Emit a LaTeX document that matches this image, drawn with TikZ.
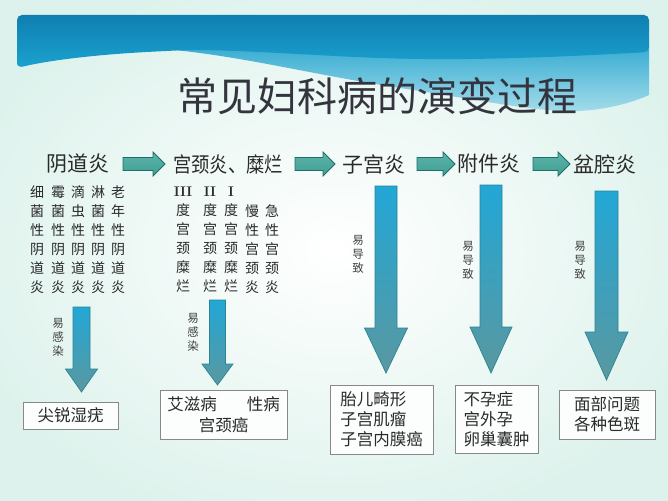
\documentclass[tikz,border=0pt]{standalone}
\usepackage{fontspec}
\newfontfamily\cjk{Noto Sans CJK SC}
\usetikzlibrary{calc}
\definecolor{bgmint}{HTML}{DDF2EC}
\definecolor{darktop}{HTML}{0F7FB2}
\definecolor{darkbot}{HTML}{1BA2CE}
\definecolor{wavetop}{HTML}{35ABD2}
\definecolor{wavebot}{HTML}{A6DDEA}
\definecolor{hfill}{HTML}{3F9E93}
\definecolor{hfilltop}{HTML}{5DB5AA}
\definecolor{hdraw}{HTML}{1F6E68}
\definecolor{vtop}{HTML}{22A7D6}
\definecolor{vbot}{HTML}{5A98A0}
\definecolor{vdraw}{HTML}{2A8494}
\definecolor{txt}{HTML}{2A2A2A}
\definecolor{titlecol}{HTML}{34343E}
\definecolor{boxdraw}{HTML}{888888}
\newcommand\myHArrow[3]{% x-from, x-to, y
  \shade[top color=hfilltop, bottom color=hfill, draw=hdraw, line width=0.8pt]
    (#1,#3-6.5) -- (#2-12,#3-6.5) -- (#2-12,#3-12) -- (#2,#3) -- (#2-12,#3+12)
    -- (#2-12,#3+6.5) -- (#1,#3+6.5) -- cycle;}
\newcommand\myVArrow[6]{% x, ytop, ytip, body half, head half, head length
  \shade[top color=vtop, bottom color=vbot, draw=vdraw, line width=0.7pt]
    (#1-#4,#2) -- (#1+#4,#2) -- (#1+#4,#3-#6) -- (#1+#5,#3-#6) -- (#1,#3)
    -- (#1-#5,#3-#6) -- (#1-#4,#3-#6) -- cycle;}
\begin{document}
\begin{tikzpicture}[x=1pt,y=-1pt,
  head/.style={font=\cjk\fontsize{21}{24}\selectfont, text=txt, inner sep=0pt},
  colm/.style={font=\cjk\fontsize{14}{19}\selectfont, text=txt, inner sep=0pt, align=center},
  vlabel/.style={font=\cjk\fontsize{11.5}{14}\selectfont, text=txt!90, inner sep=0pt, align=center},
  box/.style={draw=boxdraw, fill=white!90!bgmint, line width=0.8pt, inner sep=0pt,
    font=\cjk\fontsize{16.5}{20}\selectfont, text=txt, align=left}]
\useasboundingbox (0,0) rectangle (668,500);
% background
\shade[inner color=white, outer color=bgmint] (-60,-40) rectangle (728,540);
% light wave
\shade[top color=wavetop, bottom color=wavebot]
  (175,50) .. controls (250,58) and (310,74) .. (400,88)
  .. controls (480,100) and (540,113) .. (580,111)
  .. controls (612,109) and (636,101) .. (649,95) -- (649,45) -- cycle;
% dark band
\shade[top color=darktop, bottom color=darkbot, rounded corners=5pt]
  (17,68) -- (17,15) -- (649,15) -- (649,52)
  .. controls (560,57) and (470,61) .. (380,58)
  .. controls (300,55) and (220,48) .. (167,51)
  .. controls (100,54) and (50,60) .. (17,68) -- cycle;
% title
\node[font=\cjk\fontsize{40}{42}\selectfont, text=titlecol] (title) at (377,96) {常见妇科病的演变过程};
% headings
\node[head] (t1) at (78,164) {阴道炎};
\node[head, xscale=.87] (t2) at (228,164) {宫颈炎、糜烂};
\node[head] (t3) at (374,164) {子宫炎};
\node[head] (t4) at (489,164) {附件炎};
\node[head] (t5) at (605,164) {盆腔炎};
% horizontal block arrows between headings
\myHArrow{123}{165}{164}
\myHArrow{295}{335}{164}
\myHArrow{417}{455}{164}
\myHArrow{533}{570}{164}
% columns under 阴道炎
\node[colm] (c11) at (37,239.5) {细\\菌\\性\\阴\\道\\炎};
\node[colm] (c12) at (58,239.5) {霉\\菌\\性\\阴\\道\\炎};
\node[colm] (c13) at (78,239.5) {滴\\虫\\性\\阴\\道\\炎};
\node[colm] (c14) at (98,239.5) {淋\\菌\\性\\阴\\道\\炎};
\node[colm] (c15) at (118,239.5) {老\\年\\性\\阴\\道\\炎};
% columns under 宫颈炎、糜烂
\node[colm] (c21) at (183,239.5) {{\rmfamily\bfseries III}\\度\\宫\\颈\\糜\\烂};
\node[colm] (c22) at (210,239.5) {{\rmfamily\bfseries II}\\度\\宫\\颈\\糜\\烂};
\node[colm] (c23) at (231,239.5) {{\rmfamily\bfseries I}\\度\\宫\\颈\\糜\\烂};
\node[colm] (c24) at (252,249) {慢\\性\\宫\\颈\\炎};
\node[colm] (c25) at (272,249) {急\\性\\宫\\颈\\炎};
% down arrows
\myVArrow{81.5}{307}{392}{8.5}{16}{23}
\myVArrow{217.5}{300}{385}{8}{15.5}{21}
\myVArrow{386}{186}{373}{11}{21.5}{45}
\myVArrow{491}{185}{373}{11}{21}{46}
\myVArrow{606.5}{191}{380}{11.5}{21.5}{48}
% vertical labels
\node[vlabel] (l1) at (58,337) {易\\感\\染};
\node[vlabel] (l2) at (193,332) {易\\感\\染};
\node[vlabel] (l3) at (358,254) {易\\导\\致};
\node[vlabel] (l4) at (468,260) {易\\导\\致};
\node[vlabel] (l5) at (580,260) {易\\导\\致};
% result boxes
\node[box, minimum width=95, minimum height=27] (b1) at (70.5,415.5) {尖锐湿疣};
\node[box, minimum width=127, minimum height=49, align=center,
  font=\cjk\fontsize{16.5}{21}\selectfont] (b2) at (223.5,414.5) {艾滋病\hspace{30pt}性病\\宫颈癌};
\node[box, minimum width=103, minimum height=69] (b3) at (381.5,419.5) {胎儿畸形\\子宫肌瘤\\子宫内膜癌};
\node[box, minimum width=83, minimum height=68] (b4) at (496.5,419) {不孕症\\宫外孕\\卵巢囊肿};
\node[box, minimum width=96, minimum height=49] (b5) at (607,414.5) {面部问题\\各种色斑};
\end{tikzpicture}
\end{document}
